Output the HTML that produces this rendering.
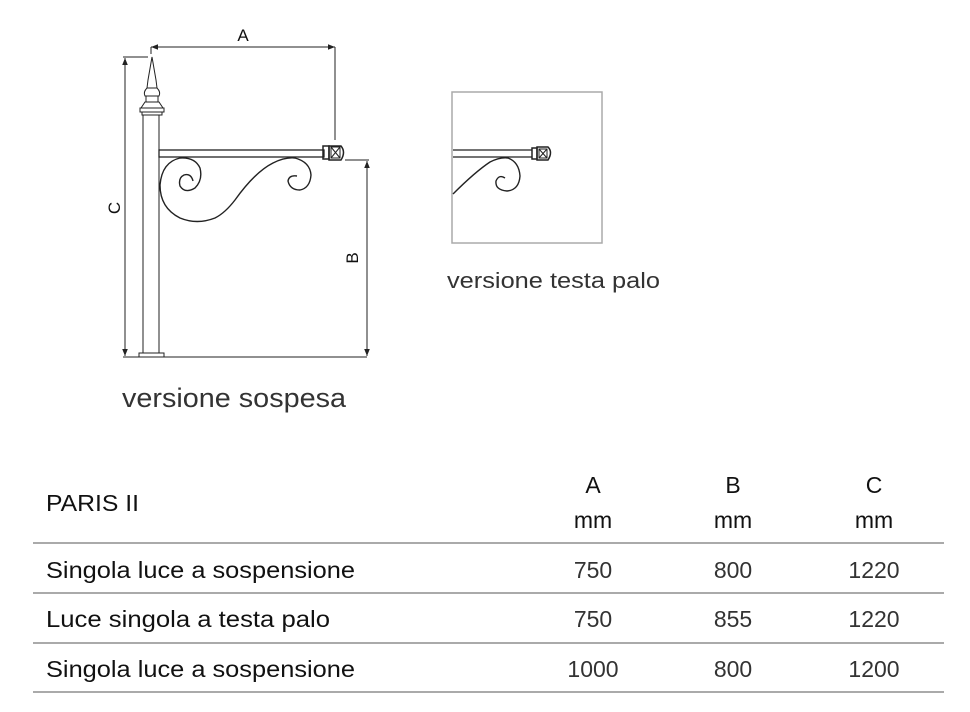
<!DOCTYPE html>
<html><head><meta charset="utf-8"><style>
html,body{margin:0;padding:0;background:#fff;}
svg{display:block;font-family:"Liberation Sans",sans-serif;}
</style></head><body>
<svg width="970" height="712" viewBox="0 0 970 712" xmlns="http://www.w3.org/2000/svg">
<defs>
<marker id="ar" viewBox="0 0 10 10" refX="10" refY="5" markerWidth="7" markerHeight="7" orient="auto-start-reverse"><path d="M0,1 L10,5 L0,9 z" fill="#222"/></marker>
</defs>
<g stroke="#222" fill="none" stroke-width="1">
<line x1="123" y1="57" x2="148" y2="57"/>
<line x1="125" y1="58" x2="125" y2="356" marker-start="url(#ar)" marker-end="url(#ar)"/>
<line x1="123" y1="357" x2="367" y2="357"/>
<line x1="151" y1="47" x2="151" y2="54"/>
<line x1="151" y1="47" x2="335" y2="47" marker-start="url(#ar)" marker-end="url(#ar)"/>
<line x1="335" y1="47" x2="335" y2="140"/>
<line x1="345" y1="160" x2="369" y2="160"/>
<line x1="367" y1="161" x2="367" y2="356" marker-start="url(#ar)" marker-end="url(#ar)"/>
<rect x="143" y="115" width="16" height="238"/>
<rect x="139" y="353" width="25" height="4"/>
<path d="M152,57 L148,80 L147,88 L157,88 L156,80 Z"/>
<path d="M147,88 Q143,92 145,96 L159,96 Q161,92 157,88"/>
<rect x="146" y="96" width="12" height="6"/>
<path d="M145,102 L159,102 L163,108 L141,108 Z"/>
<rect x="140" y="108" width="24" height="4"/>
<rect x="142" y="112" width="20" height="3"/>
<rect x="159" y="150" width="165" height="7" stroke-width="1.3"/>
<rect x="323" y="146" width="6" height="13" stroke-width="1.5"/>
<path d="M329,146 L341,146 Q346,152 341,160 L329,160 Z" stroke-width="1.5"/>
<rect x="331" y="147" width="9" height="11"/>
<line x1="331" y1="147" x2="340" y2="158"/><line x1="340" y1="147" x2="331" y2="158"/>
<path stroke-width="1.4" d="M193,181 Q191,173 184,175 Q178,178 180,186 Q185,194 195,188 Q203,180 200,168 Q195,157 180,158 Q162,162 160,185 Q160,208 180,218 Q197,225 215,218 Q225,213 235,200 Q255,172 273,163 Q285,157 295,158 Q310,162 311,175 Q310,188 300,190 Q290,190 288,181 Q289,175 297,176"/>
</g>
<g fill="#111" font-size="17" text-anchor="middle">
<text x="243" y="41">A</text>
<text transform="translate(120,208) rotate(-90)">C</text>
<text transform="translate(358,258) rotate(-90)">B</text>
</g>
<rect x="452" y="92" width="150" height="151" fill="none" stroke="#aaa" stroke-width="1.5"/>
<g stroke="#222" fill="none">
<line x1="453" y1="150" x2="532" y2="150" stroke-width="1.3"/>
<line x1="453" y1="157" x2="532" y2="157" stroke-width="1.3"/>
<rect x="532" y="148" width="5" height="11" stroke-width="1.5"/>
<path d="M537,147 L548,147 Q553,152 548,160 L537,160 Z" stroke-width="1.5"/>
<rect x="539" y="149" width="8" height="9"/>
<line x1="539" y1="149" x2="547" y2="158"/><line x1="547" y1="149" x2="539" y2="158"/>
<path stroke-width="1.4" d="M453,194 Q475,172 490,162 Q500,157 508,158 Q519,162 520,176 Q519,190 507,191 Q495,190 496,181 Q499,174 505,178"/>
</g>
<text x="447" y="288" font-size="22" fill="#333" textLength="213" lengthAdjust="spacingAndGlyphs">versione testa palo</text>
<text x="122" y="407" font-size="27" fill="#333" textLength="224" lengthAdjust="spacingAndGlyphs">versione sospesa</text>
<g fill="#111">
<text x="46" y="511" font-size="23" textLength="93" lengthAdjust="spacingAndGlyphs">PARIS II</text>
<g font-size="23" text-anchor="middle">
<text x="593" y="493">A</text><text x="733" y="493">B</text><text x="874" y="493">C</text>
<text x="593" y="528">mm</text><text x="733" y="528">mm</text><text x="874" y="528">mm</text>
</g>
<text x="46" y="578" font-size="23" textLength="309" lengthAdjust="spacingAndGlyphs">Singola luce a sospensione</text>
<text x="46" y="627" font-size="23" textLength="284" lengthAdjust="spacingAndGlyphs">Luce singola a testa palo</text>
<text x="46" y="677" font-size="23" textLength="309" lengthAdjust="spacingAndGlyphs">Singola luce a sospensione</text>
</g>
<g fill="#333" font-size="23" text-anchor="middle">
<text x="593" y="578">750</text><text x="733" y="578">800</text><text x="874" y="578">1220</text>
<text x="593" y="627">750</text><text x="733" y="627">855</text><text x="874" y="627">1220</text>
<text x="593" y="677">1000</text><text x="733" y="677">800</text><text x="874" y="677">1200</text>
</g>
<g stroke="#777" stroke-width="1.3">
<line x1="33" y1="543" x2="944" y2="543"/>
<line x1="33" y1="593" x2="944" y2="593"/>
<line x1="33" y1="643" x2="944" y2="643"/>
<line x1="33" y1="692" x2="944" y2="692"/>
</g>
</svg>
</body></html>
